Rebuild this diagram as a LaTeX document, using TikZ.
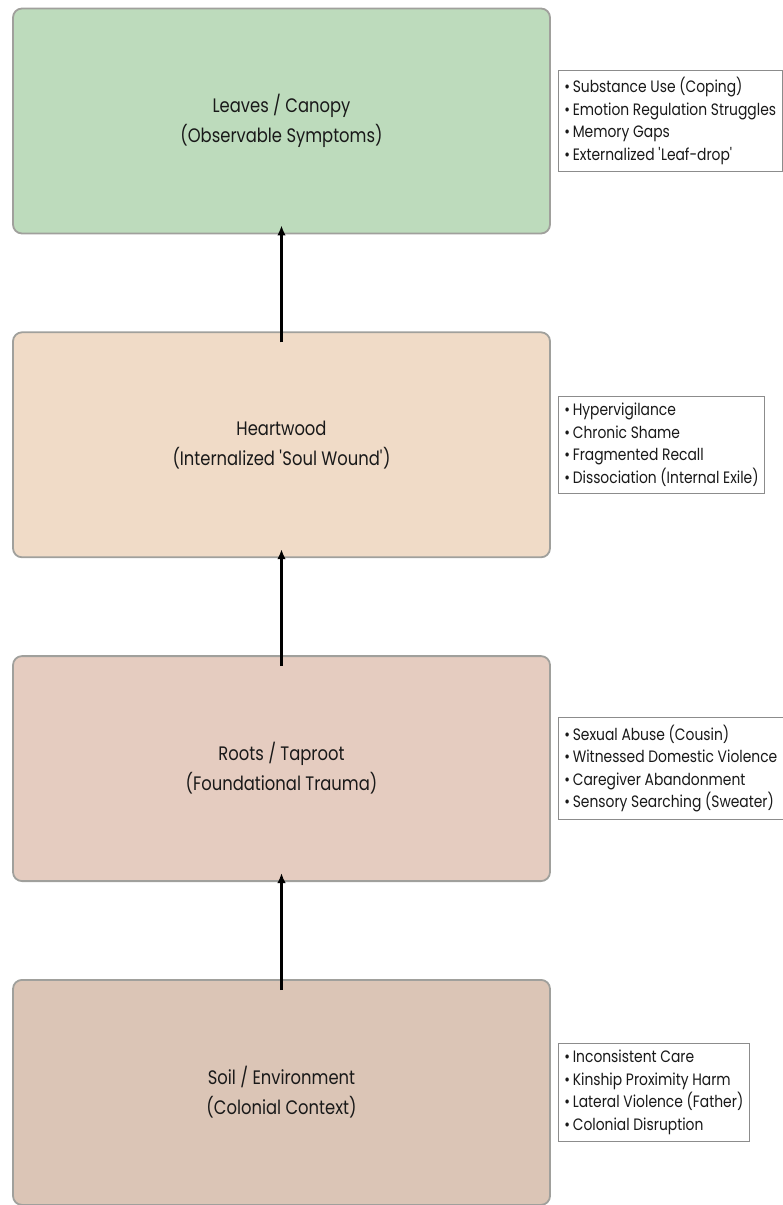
\documentclass[tikz,border=0pt]{standalone}
\usepackage{fontspec}
\setmainfont{Poppins}[FakeStretch=0.84]
\usetikzlibrary{arrows.meta,positioning}
\definecolor{leafgreen}{RGB}{189,219,188}
\definecolor{heartpeach}{RGB}{240,219,199}
\definecolor{rootrose}{RGB}{229,204,192}
\definecolor{soilbrown}{RGB}{219,197,182}
\definecolor{tierline}{RGB}{160,160,156}
\definecolor{noteline}{RGB}{140,140,140}
\definecolor{inkgray}{RGB}{25,25,25}

\begin{document}
\begin{tikzpicture}[
  x=1pt, y=-1pt,
  node distance=97pt and 7pt,
  tier/.style={draw=tierline, line width=1.8pt, rounded corners=9pt, minimum width=537pt, minimum height=225pt, align=center, font=\fontsize{19.5}{30}\selectfont, text=inkgray},
  note/.style={draw=noteline, line width=0.9pt, fill=white, align=left, inner xsep=6pt, inner ysep=7pt, font=\fontsize{16.5}{22.5}\selectfont, text=inkgray},
  arr/.style={-{Latex[length=10pt,width=8.5pt]}, line width=2.2pt}
]
\useasboundingbox (0,0) rectangle (782,1205);
\node[tier, fill=leafgreen] (leaves) at (281.5,121) {Leaves / Canopy\\(Observable Symptoms)};
\node[tier, fill=heartpeach, below=of leaves] (heart) {Heartwood\\(Internalized \textquotesingle Soul Wound\textquotesingle)};
\node[tier, fill=rootrose, below=of heart] (roots) {Roots / Taproot\\(Foundational Trauma)};
\node[tier, fill=soilbrown, below=of roots] (soil) {Soil / Environment\\(Colonial Context)};
\node[note, right=of leaves] (leavesnote) {\textbullet\,Substance Use (Coping)\\\textbullet\,Emotion Regulation Struggles\\\textbullet\,Memory Gaps\\\textbullet\,Externalized \textquotesingle Leaf-drop\textquotesingle};
\node[note, right=of heart] (heartnote) {\textbullet\,Hypervigilance\\\textbullet\,Chronic Shame\\\textbullet\,Fragmented Recall\\\textbullet\,Dissociation (Internal Exile)};
\node[note, right=of roots] (rootsnote) {\textbullet\,Sexual Abuse (Cousin)\\\textbullet\,Witnessed Domestic Violence\\\textbullet\,Caregiver Abandonment\\\textbullet\,Sensory Searching (Sweater)};
\node[note, right=of soil] (soilnote) {\textbullet\,Inconsistent Care\\\textbullet\,Kinship Proximity Harm\\\textbullet\,Lateral Violence (Father)\\\textbullet\,Colonial Disruption};
\draw[arr] ([yshift=-11pt]soil.north) -- ([yshift=9pt]roots.south);
\draw[arr] ([yshift=-11pt]roots.north) -- ([yshift=9pt]heart.south);
\draw[arr] ([yshift=-11pt]heart.north) -- ([yshift=9pt]leaves.south);
\end{tikzpicture}
\end{document}
